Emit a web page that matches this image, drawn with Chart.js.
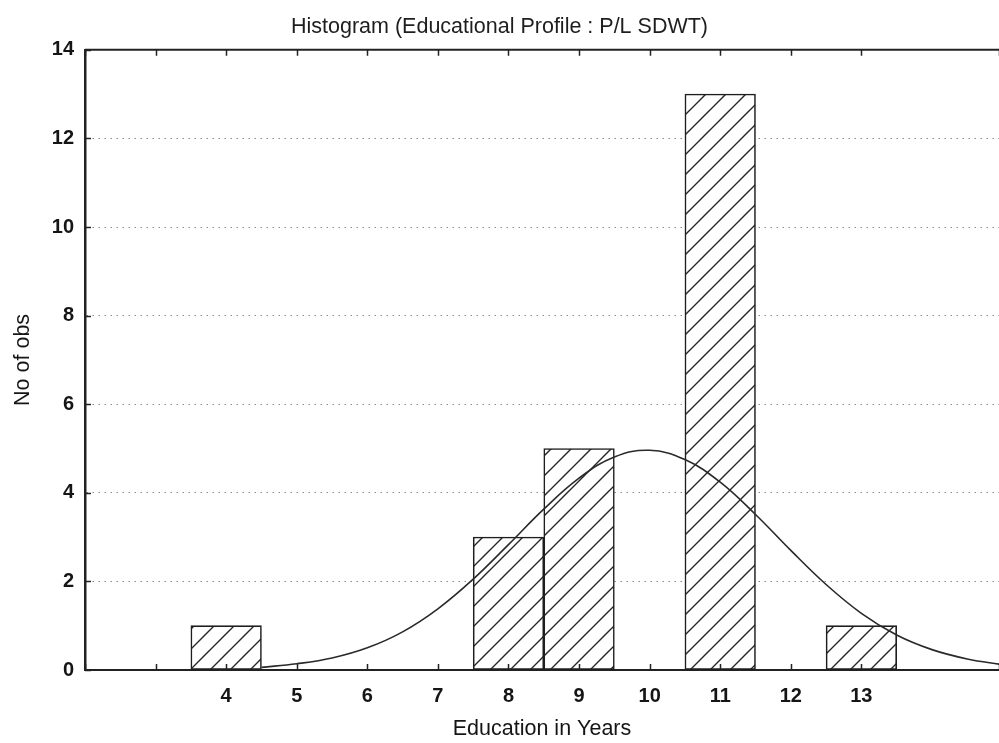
<!DOCTYPE html>
<html>
<head>
<meta charset="utf-8">
<script src="https://cdn.jsdelivr.net/npm/chart.js@4.4.1/dist/chart.umd.min.js"></script>
<style>
  html, body { margin: 0; padding: 0; background: #fff; }
  #wrap { width: 999px; height: 743px; }
</style>
</head>
<body>
<div id="wrap"><canvas id="histChart" width="999" height="743"></canvas></div>
<script>
// years of education (bin centres) and number of observations per bin
const years = [4, 5, 6, 7, 8, 9, 10, 11, 12, 13];
const counts = [1, 0, 0, 0, 3, 5, 0, 13, 0, 1];

// fitted normal curve, sampled every half year
const curveX = [4.5, 5, 5.5, 6, 6.5, 7, 7.5, 8, 8.5, 9, 9.5, 10, 10.5, 11, 11.5, 12, 12.5, 13, 13.5, 14, 14.5, 15];
const curveY = [0.06, 0.14, 0.27, 0.5, 0.86, 1.38, 2.05, 2.83, 3.63, 4.33, 4.81, 4.96, 4.75, 4.24, 3.51, 2.7, 1.93, 1.28, 0.79, 0.46, 0.25, 0.12];

// y axis runs 0..14 in steps of 2
const yMax = 14;
const yStep = 2;

Chart.defaults.font.family = "'Liberation Sans', Arial, sans-serif";
Chart.defaults.color = '#151515';

// diagonal hatch used to fill the bars
function hatch() {
  const s = 20;
  const c = document.createElement('canvas');
  c.width = s;
  c.height = s;
  const g = c.getContext('2d');
  g.fillStyle = '#fff';
  g.fillRect(0, 0, s, s);
  g.strokeStyle = '#262626';
  g.lineWidth = 1.4;
  g.beginPath();
  g.moveTo(0, s); g.lineTo(s, 0);
  g.moveTo(-2, 2); g.lineTo(2, -2);
  g.moveTo(s - 2, s + 2); g.lineTo(s + 2, s - 2);
  g.stroke();
  return g.createPattern(c, 'repeat');
}

// top edge of the frame plus small tick marks pointing into the plot
const frame = {
  id: 'frame',
  afterDatasetsDraw(chart) {
    const { ctx, chartArea: a, scales: { x, y } } = chart;
    ctx.save();
    ctx.strokeStyle = '#222';
    ctx.lineWidth = 2;
    ctx.beginPath();
    ctx.moveTo(a.left, a.top);
    ctx.lineTo(a.right, a.top);
    ctx.stroke();

    ctx.lineWidth = 1.5;
    ctx.beginPath();
    x.ticks.forEach((t, i) => {
      const px = Math.round(x.getPixelForTick(i)) + 0.5;
      ctx.moveTo(px, a.bottom);
      ctx.lineTo(px, a.bottom - 6);
      ctx.moveTo(px, a.top);
      ctx.lineTo(px, a.top + 6);
    });
    y.ticks.forEach((t, i) => {
      const py = Math.round(y.getPixelForTick(i)) + 0.5;
      ctx.moveTo(a.left, py);
      ctx.lineTo(a.left + 6, py);
    });
    ctx.stroke();
    ctx.restore();
  }
};

const ctx = document.getElementById('histChart').getContext('2d');

new Chart(ctx, {
  type: 'bar',
  data: {
    datasets: [
      {
        type: 'line',
        data: curveX.map((v, i) => ({ x: v, y: curveY[i] })),
        borderColor: '#2a2a2a',
        borderWidth: 1.6,
        pointRadius: 0,
        tension: 0.4,
        fill: false,
        order: 0,
      },
      {
        type: 'bar',
        data: years.map((v, i) => ({ x: v, y: counts[i] })),
        backgroundColor: hatch(),
        borderColor: '#1e1e1e',
        borderWidth: 1.6,
        borderSkipped: false,
        barPercentage: 1,
        categoryPercentage: 1,
        order: 1,
      }
    ]
  },
  options: {
    responsive: false,
    animation: false,
    layout: { padding: 0 },
    plugins: {
      legend: { display: false },
      tooltip: { enabled: false },
      title: {
        display: true,
        text: 'Histogram (Educational Profile : P/L SDWT)',
        color: '#1e1e1e',
        font: { size: 21.5, weight: 'normal' },
        padding: { top: 14, bottom: 10 },
      },
    },
    scales: {
      x: {
        type: 'linear',
        min: 2,
        max: 14.95,
        offset: false,
        // invisible tick length keeps the labels clear of the axis
        // without adding right-hand padding to the plot
        grid: {
          display: true,
          drawOnChartArea: false,
          drawTicks: true,
          tickLength: 14,
          tickColor: 'rgba(0,0,0,0)',
          offset: false,
        },
        border: { color: '#222', width: 2 },
        ticks: {
          stepSize: 1,
          autoSkip: false,
          maxRotation: 0,
          padding: 0,
          font: { size: 20, weight: 'bold' },
          callback: v => years.includes(v) ? String(v) : '',
        },
        title: {
          display: true,
          text: 'Education in Years',
          font: { size: 21.5 },
          padding: { top: 0, bottom: 1 },
        },
        afterFit: s => { s.height = 73; },
      },
      y: {
        min: 0,
        max: yMax,
        ticks: { stepSize: yStep, padding: 11, font: { size: 20, weight: 'bold' } },
        grid: { color: '#8a8a8a', lineWidth: 1, drawTicks: false },
        border: { color: '#222', width: 2.5, dash: [1.5, 4.5] },
        title: {
          display: true,
          text: 'No of obs',
          font: { size: 21.5 },
          padding: { top: 10, bottom: 0 },
        },
        afterFit: s => { s.width = 85; },
      }
    }
  },
  plugins: [frame]
});
</script>
</body>
</html>
